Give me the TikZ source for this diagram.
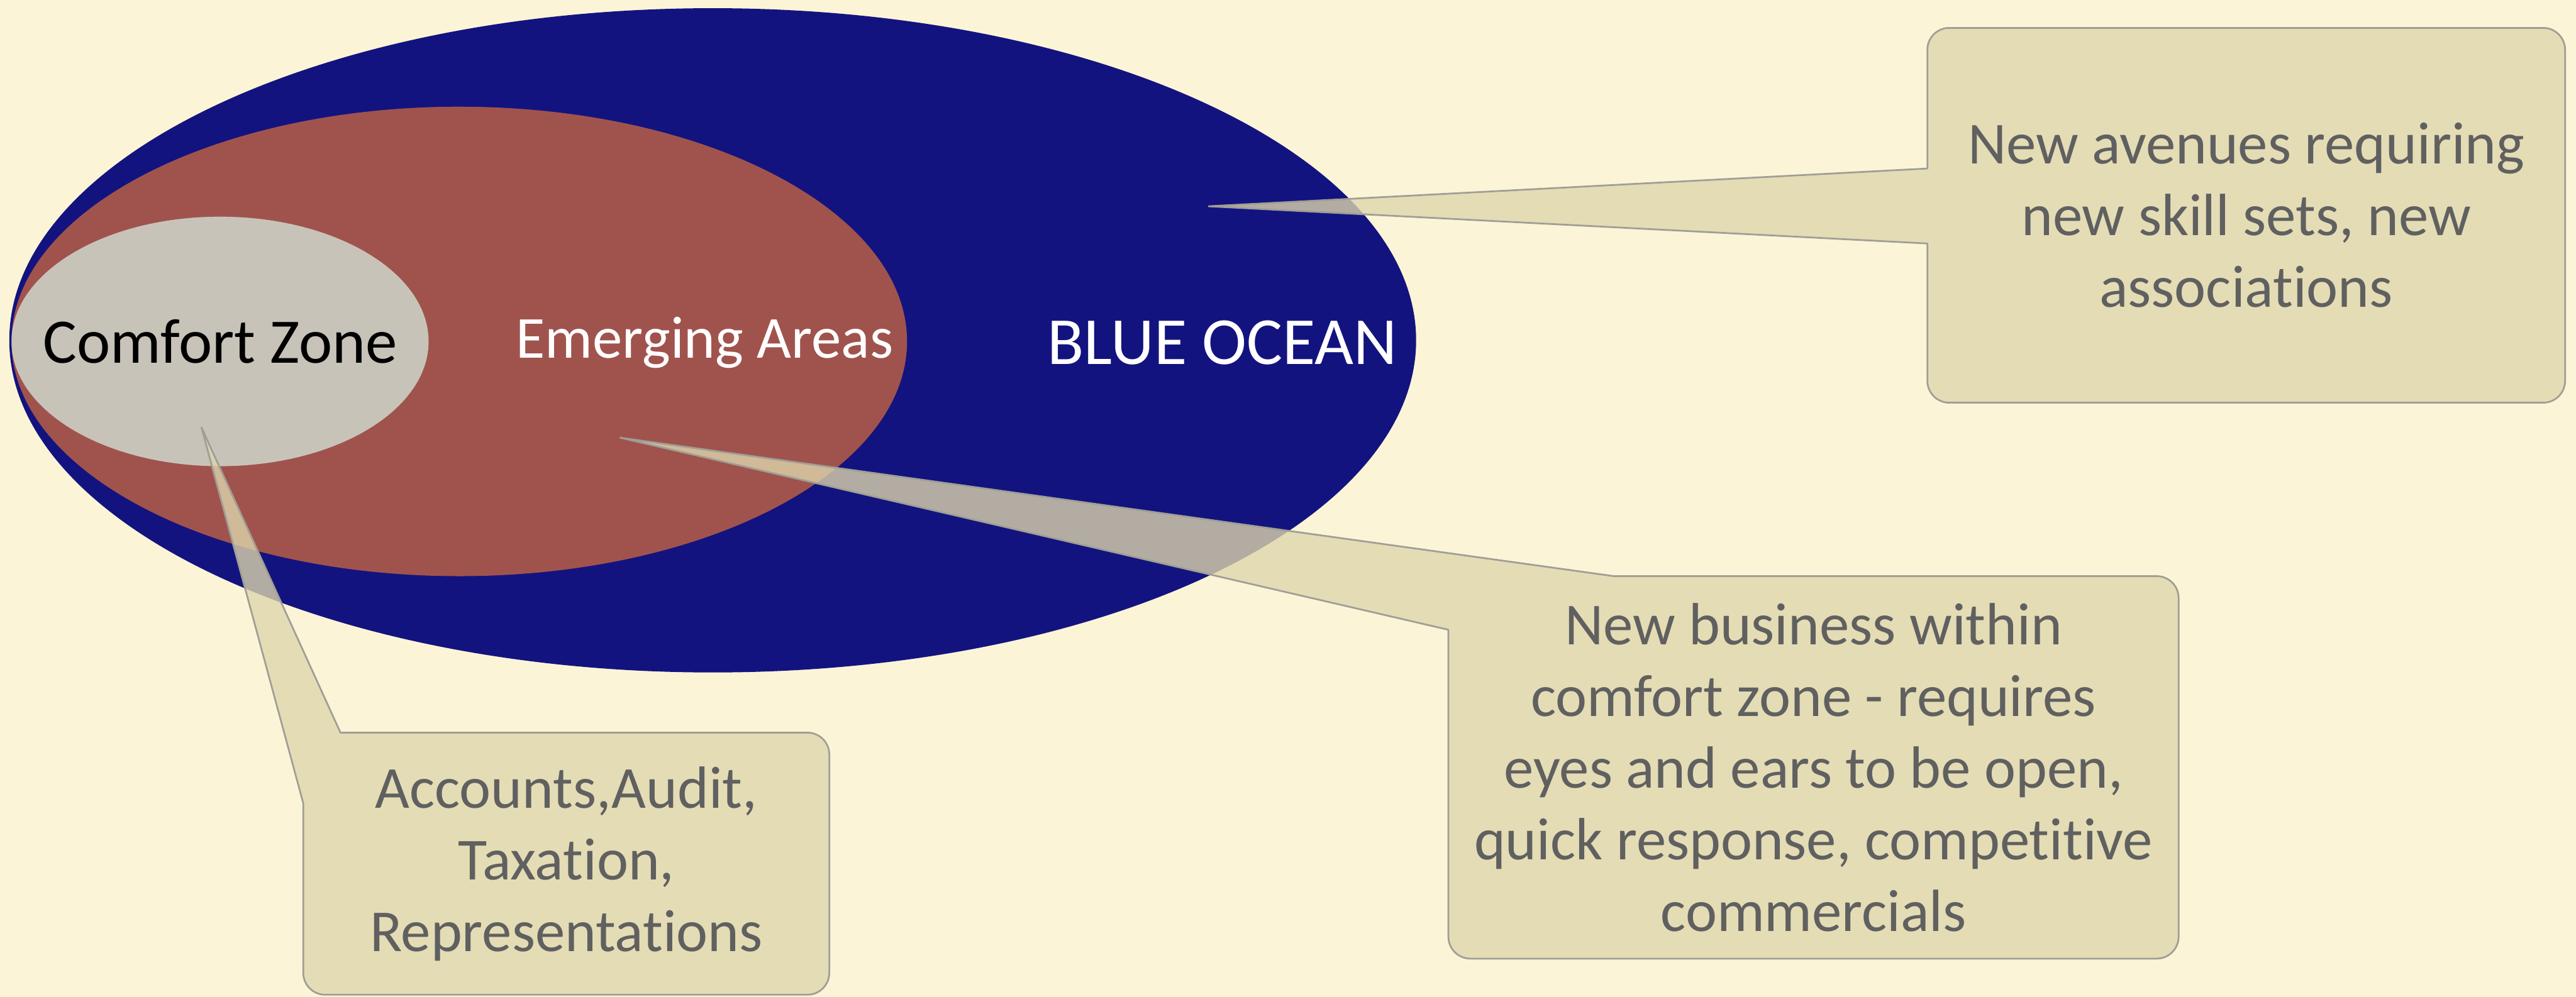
\documentclass[tikz,border=0pt]{standalone}
\usepackage{fontspec}
\setmainfont[RawFeature={-liga;-clig;-calt;-dlig}]{Carlito}
\usetikzlibrary{shapes.geometric,backgrounds}
\definecolor{paper}{RGB}{251,244,215}
\definecolor{ocean}{RGB}{19,19,127}
\definecolor{emerge}{RGB}{160,83,77}
\definecolor{comfort}{RGB}{200,195,185}
\definecolor{notefill}{RGB}{222,214,172}
\definecolor{noteline}{RGB}{160,158,150}
\definecolor{notetext}{RGB}{96,96,96}
\newcommand{\notefont}{\fontsize{31}{37.3}\selectfont}

\begin{document}
\begin{tikzpicture}[
    zone/.style={ellipse, inner sep=0pt, outer sep=0pt},
    zonelbl/.style={inner sep=0pt, text=white},
    note/.style={rectangle, inner sep=0pt, outer sep=0pt, align=center, text=notetext, font=\notefont},
    callout/.style={fill=notefill, fill opacity=0.79, draw=noteline, line width=0.9pt, line join=round}
]
    \useasboundingbox (0,0) rectangle (47.06,-18.22);

    % callout texts
    \node[note, minimum width=11.65cm, minimum height=6.85cm] (avenues) at (41.035,-3.935) {
        New avenues requiring\\new skill sets, new\\associations
    };
    \node[note, minimum width=13.34cm, minimum height=6.99cm] (business) at (33.13,-14.025) {
        New business within\\comfort zone - requires\\eyes and ears to be open,\\quick response, competitive\\commercials
    };
    \node[note, minimum width=9.61cm, minimum height=4.79cm] (accounts) at (10.345,-15.785) {
        Accounts,Audit,\\Taxation,\\Representations
    };

    \begin{scope}[on background layer]
        \fill[paper] (0,0) rectangle (47.06,-18.22);

        % nested zones
        \node[zone, fill=ocean, minimum width=25.70cm, minimum height=12.14cm] (ocean) at (13.02,-6.22) {};
        \node[zone, fill=emerge, minimum width=16.36cm, minimum height=8.58cm] (emerging) at (8.39,-6.24) {};
        \node[zone, fill=comfort, minimum width=7.62cm, minimum height=4.56cm] (comfort) at (4.02,-6.24) {};
        \node[zonelbl, text=black, font=\fontsize{33}{33}\selectfont] (comfortlbl) at (comfort) {Comfort Zone};
        \node[zonelbl, font=\fontsize{31}{31}\selectfont] (emerginglbl) at (12.87,-6.26) {Emerging Areas};
        \node[zonelbl, font=\fontsize{35}{35}\selectfont] (oceanlbl) at (22.33,-6.26) {BLUE OCEAN};

        % tail tips
        \coordinate (tipavenues) at (22.08,-3.77);
        \coordinate (tipbusiness) at (11.33,-8.00);
        \coordinate (tipaccounts) at (3.68,-7.81);

        % callout shapes, tail and body in one path
        \path[callout] (tipavenues) -- ([yshift=8.55mm]avenues.west)
            -- ([yshift=-4mm]avenues.north west) arc[start angle=180, end angle=90, radius=4mm]
            -- ([xshift=-4mm]avenues.north east) arc[start angle=90, end angle=0, radius=4mm]
            -- ([yshift=4mm]avenues.south east) arc[start angle=0, end angle=-90, radius=4mm]
            -- ([xshift=4mm]avenues.south west) arc[start angle=-90, end angle=-180, radius=4mm]
            -- ([yshift=-5.15mm]avenues.west) -- cycle;
        \path[callout] (tipbusiness) -- ([xshift=30.2mm]business.north west)
            -- ([xshift=-4mm]business.north east) arc[start angle=90, end angle=0, radius=4mm]
            -- ([yshift=4mm]business.south east) arc[start angle=0, end angle=-90, radius=4mm]
            -- ([xshift=4mm]business.south west) arc[start angle=-90, end angle=-180, radius=4mm]
            -- ([yshift=-9.8mm]business.north west) -- cycle;
        \path[callout] (tipaccounts) -- ([xshift=6.8mm]accounts.north west)
            -- ([xshift=-4mm]accounts.north east) arc[start angle=90, end angle=0, radius=4mm]
            -- ([yshift=4mm]accounts.south east) arc[start angle=0, end angle=-90, radius=4mm]
            -- ([xshift=4mm]accounts.south west) arc[start angle=-90, end angle=-180, radius=4mm]
            -- ([yshift=-12.9mm]accounts.north west) -- cycle;
    \end{scope}
\end{tikzpicture}
\end{document}
